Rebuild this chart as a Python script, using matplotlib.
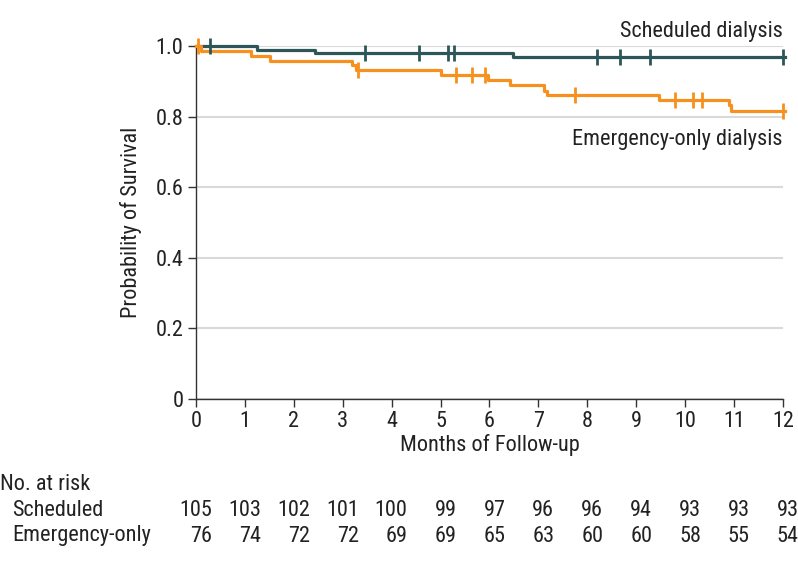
import matplotlib
matplotlib.use("Agg")
import matplotlib.pyplot as plt
import matplotlib.transforms as mtransforms
from matplotlib import font_manager

# ---------------- data ----------------
months = list(range(0, 13))

sched_step_times = [0.0, 1.24, 2.43, 6.49]
sched_step_surv = [1.0, 0.990, 0.981, 0.971]
sched_censor_t = [0.29, 3.46, 4.55, 5.15, 5.27, 8.2, 8.67, 9.28, 12.0]

emerg_step_times = [0.0, 0.10, 1.12, 1.51, 3.18, 3.27, 5.02, 5.98, 6.43, 7.12, 7.17, 9.47, 10.89, 10.95]
emerg_step_surv = [1.0, 0.987, 0.974, 0.960, 0.947, 0.932, 0.919, 0.905, 0.891, 0.875, 0.862, 0.848, 0.834, 0.818]
emerg_censor_t = [0.05, 3.31, 5.32, 5.64, 5.91, 7.75, 9.80, 10.16, 10.35, 12.0]

risk_sched = [105, 103, 102, 101, 100, 99, 97, 96, 96, 94, 93, 93, 93]
risk_emerg = [76, 74, 72, 72, 69, 69, 65, 63, 60, 60, 58, 55, 54]

yticks = [0, 0.2, 0.4, 0.6, 0.8, 1.0]
ytick_labels = ["0", "0.2", "0.4", "0.6", "0.8", "1.0"]

# ---------------- style ----------------
def pick_font(cands):
    for c in cands:
        try:
            font_manager.findfont(font_manager.FontProperties(family=c), fallback_to_default=False)
            return c
        except Exception:
            continue
    return "DejaVu Sans"

FONT = pick_font(["Liberation Sans Narrow", "Roboto Condensed", "Open Sans", "Liberation Sans"])
plt.rcParams["font.family"] = [FONT, "DejaVu Sans"]
FS = 16

TEAL = "#2c5657"
ORANGE = "#f6901e"
TEXT = "#222222"

fig = plt.figure(figsize=(7.98, 5.64), dpi=100)
ax = fig.add_axes([0.2456, 0.2926, 0.981 - 0.2456, 0.9176 - 0.2926])

def km(times, surv, tend):
    xs = list(times) + [tend]
    ys = list(surv) + [surv[-1]]
    return xs, ys

def surv_at(times, surv, t):
    v = surv[0]
    for tt, s in zip(times, surv):
        if tt <= t:
            v = s
    return v

for times, surv, cens, col in [
    (sched_step_times, sched_step_surv, sched_censor_t, TEAL),
    (emerg_step_times, emerg_step_surv, emerg_censor_t, ORANGE),
]:
    xs, ys = km(times, surv, 12.05)
    ax.step(xs, ys, where="post", color=col, lw=2.3, clip_on=False, zorder=3)
    cy = [surv_at(times, surv, t) for t in cens]
    ax.plot(cens, cy, ls="none", marker="|", ms=11, mew=2.0, color=col, clip_on=False, zorder=4)

ax.set_xlim(0, 12)
ax.set_ylim(0, 1.0)
ax.set_xticks(months)
ax.set_xticklabels([str(m) for m in months], fontsize=FS, color=TEXT)
ax.set_yticks(yticks)
ax.set_yticklabels(ytick_labels, fontsize=FS, color=TEXT)
ax.yaxis.grid(True, color="#d9d9d9", lw=1.5, zorder=0)
ax.set_axisbelow(True)
for s in ["top", "right"]:
    ax.spines[s].set_visible(False)
for s in ["left", "bottom"]:
    ax.spines[s].set_color("#333333")
    ax.spines[s].set_linewidth(1.0)
ax.tick_params(axis="both", direction="out", length=6, width=1.0, color="#333333", pad=3)
ax.set_xlabel("Months of Follow-up", fontsize=FS, color=TEXT, labelpad=1)
ax.set_ylabel("Probability of Survival", fontsize=FS, color=TEXT, labelpad=10)

ax.text(12.0, 1.014, "Scheduled dialysis", ha="right", va="bottom", fontsize=FS, color=TEXT,
        transform=ax.transData)
ax.text(12.0, 0.766, "Emergency-only dialysis", ha="right", va="top", fontsize=FS, color=TEXT,
        transform=ax.transData)

# number at risk table
fig.text(0.0, 1 - 485 / 564, "No. at risk", ha="left", va="center", fontsize=FS, color=TEXT)
fig.text(12 / 798, 1 - 510 / 564, "Scheduled", ha="left", va="center", fontsize=FS, color=TEXT)
fig.text(12 / 798, 1 - 536 / 564, "Emergency-only", ha="left", va="center", fontsize=FS, color=TEXT)

blend = mtransforms.blended_transform_factory(ax.transData, fig.transFigure)
off = mtransforms.ScaledTranslation(16 / 100, 0, fig.dpi_scale_trans)
for m, a, b in zip(months, risk_sched, risk_emerg):
    fig.text(m, 1 - 510 / 564, str(a), ha="right", va="center", fontsize=FS, color=TEXT,
             transform=blend + off)
    fig.text(m, 1 - 536 / 564, str(b), ha="right", va="center", fontsize=FS, color=TEXT,
             transform=blend + off)

fig.savefig("out.png", dpi=100)
